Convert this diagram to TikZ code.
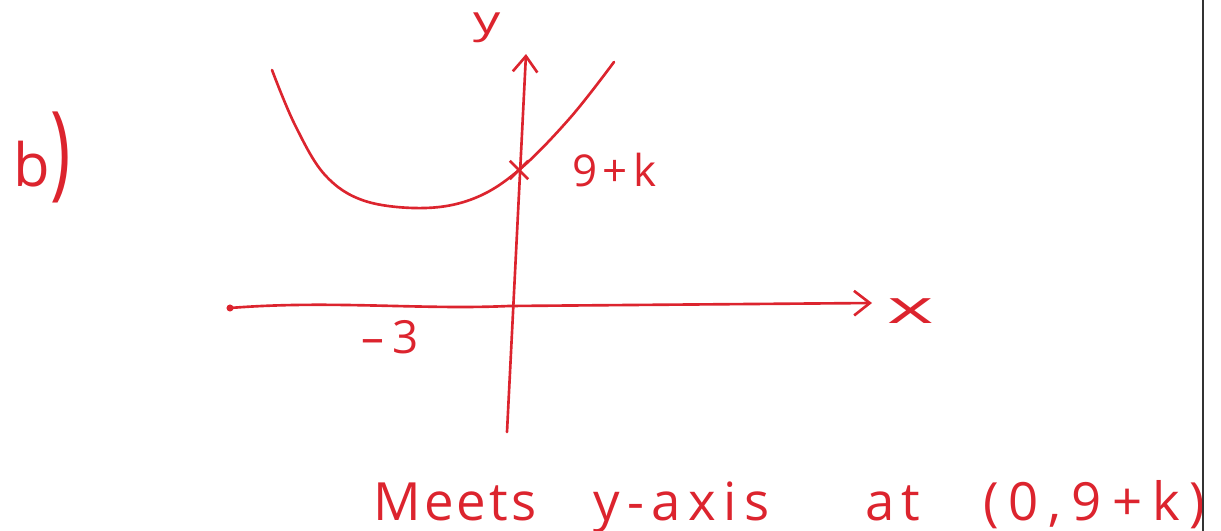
\documentclass[tikz,border=0pt]{standalone}
\usepackage{fontspec}
\setmainfont{Open Sans}
\usetikzlibrary{arrows, arrows.meta, shapes.misc, positioning}
\definecolor{penred}{RGB}{220,36,46}
\tikzstyle{pen} = [draw=penred, line width=1.5pt, line cap=round, line join=round]
\tikzstyle{axis} = [pen, -{Straight Barb[length=9pt, width=14pt, line width=1.5pt]}]
\tikzstyle{handtext} = [text=penred, inner sep=0pt, font=\fontsize{22}{26}\selectfont]
\tikzstyle{meetmark} = [cross out, draw=penred, line width=1.5pt, minimum size=9pt, inner sep=0pt]

\begin{document}
\begin{tikzpicture}[x=0.02cm, y=-0.02cm]
    \useasboundingbox (0,0) rectangle (1221,531);
    % axes
    \coordinate (xstart) at (230,308);
    \coordinate (xend) at (872,303);
    \coordinate (ybot) at (507,432);
    \coordinate (ytop) at (526,54);
    \draw [axis] (xstart) .. controls (330,300) and (420,310) .. (509,306) -- (xend);
    \draw [axis] (ybot) -- (ytop);
    \fill [penred] (xstart) circle (2pt);
    \node (xlab) [handtext, anchor=west, xscale=2.3, yscale=1.2] at (887,311) {x};
    \node (ylab) [handtext, xscale=1.4] at (487,28) {y};
    \node (minus3) [handtext, font=\fontsize{26}{30}\selectfont] at (390,337) {--\,3};

    % curve
    \draw [pen] plot[smooth, tension=0.6] coordinates {(272,70) (295,125) (325,175) (365,201) (425,208) (475,198) (519,170) (570,118) (614,62)};
    \node (meet) [meetmark] at (519,170) {};
    \node (meetlab) [handtext, anchor=west, font=\fontsize{25}{30}\selectfont\addfontfeature{LetterSpace=12}] at (572,170) {9+k};

    \node (part) [handtext, font=\fontsize{34}{40}\selectfont] at (42,157) {b\scalebox{1.15}[1.75]{)}};
    \node (note) [handtext, font=\fontsize{30}{36}\selectfont, anchor=base west] at (373,520)
        {\makebox[4.4cm][l]{\addfontfeature{LetterSpace=6}Meets}\makebox[5.44cm][l]{\addfontfeature{LetterSpace=14}y-axis}\makebox[2.36cm][l]{\addfontfeature{LetterSpace=14}at}{\addfontfeature{LetterSpace=19}(0,9+k)}};

    % page edge
    \draw [black!80, line width=1.4pt] (1203,0) -- (1203,531);
\end{tikzpicture}
\end{document}
